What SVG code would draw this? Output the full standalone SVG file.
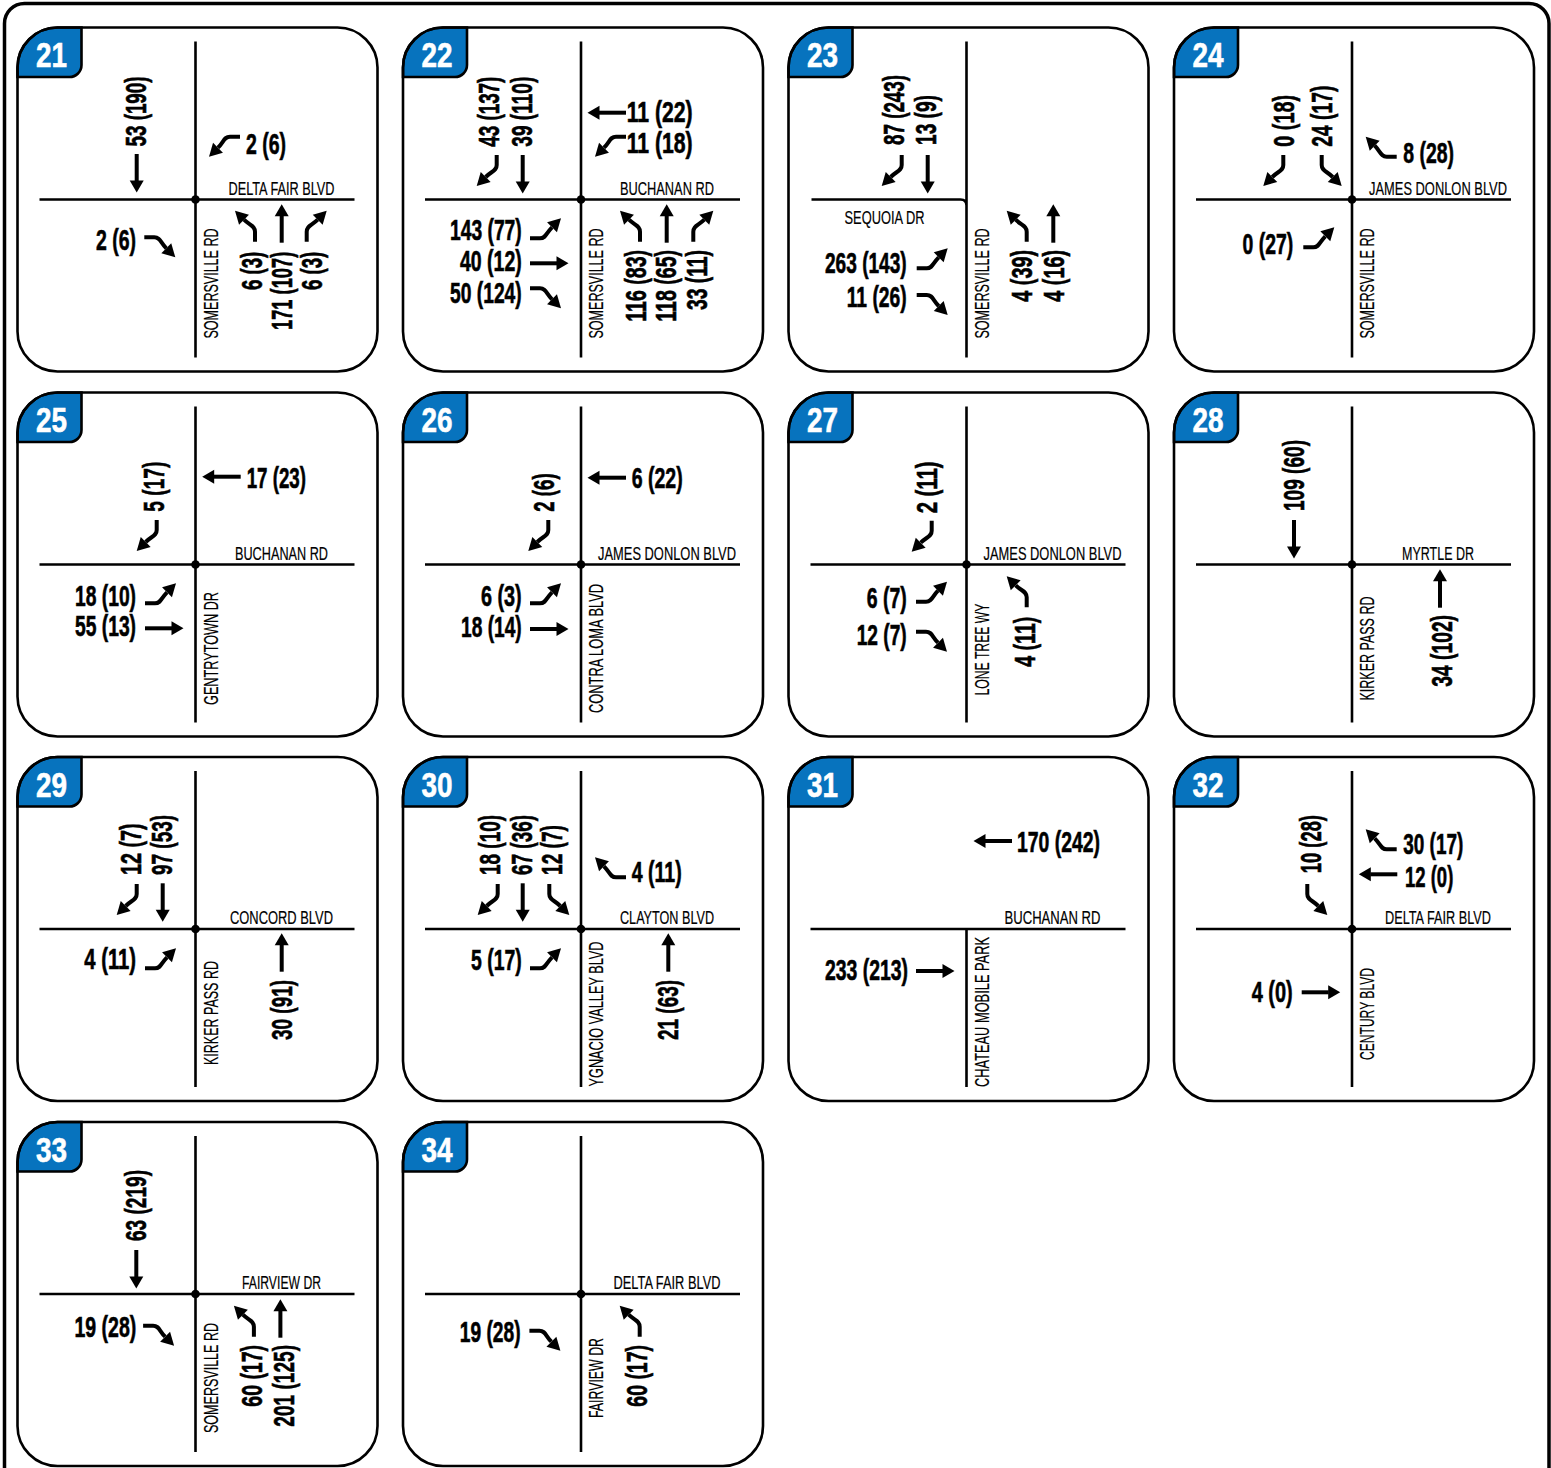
<svg xmlns="http://www.w3.org/2000/svg" width="1551" height="1468" viewBox="0 0 1551 1468">
<style>
.n{font-family:"Liberation Sans",Arial,sans-serif;font-weight:bold;font-size:29px;fill:#000;stroke:#000;stroke-width:0.6}
.e{text-anchor:end}
.s{font-family:"Liberation Sans",Arial,sans-serif;font-size:18.5px;text-anchor:middle;fill:#000;stroke:#000;stroke-width:0.2}
.sv{font-family:"Liberation Sans",Arial,sans-serif;font-size:20.5px;text-anchor:middle;fill:#000;stroke:#000;stroke-width:0.2}
.b{font-family:"Liberation Sans",Arial,sans-serif;font-weight:bold;font-size:35px;text-anchor:middle;fill:#fff;stroke:#fff;stroke-width:0.6}
.pf{fill:none;stroke:#000;stroke-width:2.6}
.bd{fill:#0773BE;stroke:#000;stroke-width:2.6}
.rd{fill:none;stroke:#000;stroke-width:2.6}
.sh{fill:none;stroke:#000;stroke-width:4}
</style>
<defs>
<g id="fr"><path class="bd" d="M0,49.5V40A40,40 0 0 1 40,0H64V37.5A12,12 0 0 1 52,49.5Z"/><rect class="pf" x="0" y="0" width="360" height="344" rx="40"/></g>
<g id="rx"><path class="rd" d="M178,14V330M22,172H337"/><circle cx="178" cy="172" r="4.3"/></g>
<g id="s"><path class="sh" d="M0,0V-27"/><path d="M-7,-26.5L7,-26.5L0,-38.5Z"/></g>
<g id="t"><path class="sh" d="M0,0V-10C0,-16 5,-16 11,-22"/><path d="M6.05,-26.95L15.95,-17.05L20,-31Z"/></g>
</defs>
<rect x="4.5" y="3.5" width="1544.5" height="1530" rx="20" fill="none" stroke="#000" stroke-width="3.5"/>

<g id="n21" transform="translate(17.5,27.5)">
<use href="#fr"/><text class="b" x="34" y="39.5" textLength="31" lengthAdjust="spacingAndGlyphs">21</text>
<use href="#rx"/>
<text class="s" x="264" y="167" textLength="106" lengthAdjust="spacingAndGlyphs">DELTA FAIR BLVD</text>
<text class="sv" transform="translate(200,256) rotate(-90)" textLength="110" lengthAdjust="spacingAndGlyphs">SOMERSVILLE RD</text>
<text class="n" transform="translate(128,119) rotate(-90)" textLength="70" lengthAdjust="spacingAndGlyphs">53 (190)</text>
<text class="n" x="228.5" y="126.8" textLength="40" lengthAdjust="spacingAndGlyphs">2 (6)</text>
<text class="n e" x="118.5" y="222.5" textLength="40" lengthAdjust="spacingAndGlyphs">2 (6)</text>
<text class="n e" transform="translate(244,224.2) rotate(-90)" textLength="38.3" lengthAdjust="spacingAndGlyphs">6 (3)</text>
<text class="n e" transform="translate(274.5,224.2) rotate(-90)" textLength="78.3" lengthAdjust="spacingAndGlyphs">171 (107)</text>
<text class="n e" transform="translate(304.5,224.2) rotate(-90)" textLength="38.3" lengthAdjust="spacingAndGlyphs">6 (3)</text>
</g>

<g id="n22" transform="translate(403,27.5)">
<use href="#fr"/><text class="b" x="34" y="39.5" textLength="31" lengthAdjust="spacingAndGlyphs">22</text>
<use href="#rx"/>
<text class="s" x="264" y="167" textLength="94" lengthAdjust="spacingAndGlyphs">BUCHANAN RD</text>
<text class="sv" transform="translate(200,256) rotate(-90)" textLength="110" lengthAdjust="spacingAndGlyphs">SOMERSVILLE RD</text>
<text class="n" transform="translate(96.3,119.2) rotate(-90)" textLength="70" lengthAdjust="spacingAndGlyphs">43 (137)</text>
<text class="n" transform="translate(129.3,119.2) rotate(-90)" textLength="70" lengthAdjust="spacingAndGlyphs">39 (110)</text>
<text class="n" x="223.7" y="94.2" textLength="66" lengthAdjust="spacingAndGlyphs">11 (22)</text>
<text class="n" x="223.7" y="125.8" textLength="66" lengthAdjust="spacingAndGlyphs">11 (18)</text>
<text class="n e" x="118.7" y="212.5" textLength="71.7" lengthAdjust="spacingAndGlyphs">143 (77)</text>
<text class="n e" x="118.7" y="243.5" textLength="61.7" lengthAdjust="spacingAndGlyphs">40 (12)</text>
<text class="n e" x="118.7" y="275.2" textLength="71.7" lengthAdjust="spacingAndGlyphs">50 (124)</text>
<text class="n e" transform="translate(243,222.5) rotate(-90)" textLength="71.7" lengthAdjust="spacingAndGlyphs">116 (83)</text>
<text class="n e" transform="translate(273,222.5) rotate(-90)" textLength="71.7" lengthAdjust="spacingAndGlyphs">118 (65)</text>
<text class="n e" transform="translate(303.7,222.5) rotate(-90)" textLength="60" lengthAdjust="spacingAndGlyphs">33 (11)</text>
</g>

<g id="n23" transform="translate(788.5,27.5)">
<use href="#fr"/><text class="b" x="34" y="39.5" textLength="31" lengthAdjust="spacingAndGlyphs">23</text>
<path class="rd" d="M178,14V330M23,172H172Q178,172 178,178"/>
<text class="s" x="96" y="196" textLength="80" lengthAdjust="spacingAndGlyphs">SEQUOIA DR</text>
<text class="sv" transform="translate(200,256) rotate(-90)" textLength="110" lengthAdjust="spacingAndGlyphs">SOMERSVILLE RD</text>
<text class="n" transform="translate(115.5,117.5) rotate(-90)" textLength="70" lengthAdjust="spacingAndGlyphs">87 (243)</text>
<text class="n" transform="translate(147.2,117.5) rotate(-90)" textLength="50" lengthAdjust="spacingAndGlyphs">13 (9)</text>
<text class="n e" x="118.2" y="245.8" textLength="81.7" lengthAdjust="spacingAndGlyphs">263 (143)</text>
<text class="n e" x="118.2" y="279.2" textLength="60" lengthAdjust="spacingAndGlyphs">11 (26)</text>
<text class="n e" transform="translate(243.8,222.5) rotate(-90)" textLength="51.7" lengthAdjust="spacingAndGlyphs">4 (39)</text>
<text class="n e" transform="translate(275.5,222.5) rotate(-90)" textLength="51.7" lengthAdjust="spacingAndGlyphs">4 (16)</text>
</g>

<g id="n24" transform="translate(1174,27.5)">
<use href="#fr"/><text class="b" x="34" y="39.5" textLength="31" lengthAdjust="spacingAndGlyphs">24</text>
<use href="#rx"/>
<text class="s" x="264" y="167" textLength="138" lengthAdjust="spacingAndGlyphs">JAMES DONLON BLVD</text>
<text class="sv" transform="translate(200,256) rotate(-90)" textLength="110" lengthAdjust="spacingAndGlyphs">SOMERSVILLE RD</text>
<text class="n" transform="translate(120,119.2) rotate(-90)" textLength="51.7" lengthAdjust="spacingAndGlyphs">0 (18)</text>
<text class="n" transform="translate(158.3,119.2) rotate(-90)" textLength="61" lengthAdjust="spacingAndGlyphs">24 (17)</text>
<text class="n" x="229.3" y="135.8" textLength="50.7" lengthAdjust="spacingAndGlyphs">8 (28)</text>
<text class="n e" x="119.3" y="226.5" textLength="50.7" lengthAdjust="spacingAndGlyphs">0 (27)</text>
</g>

<g id="n25" transform="translate(17.5,392.5)">
<use href="#fr"/><text class="b" x="34" y="39.5" textLength="31" lengthAdjust="spacingAndGlyphs">25</text>
<use href="#rx"/>
<text class="s" x="264" y="167" textLength="93" lengthAdjust="spacingAndGlyphs">BUCHANAN RD</text>
<text class="sv" transform="translate(200,256) rotate(-90)" textLength="113" lengthAdjust="spacingAndGlyphs">GENTRYTOWN DR</text>
<text class="n" transform="translate(146.5,119.2) rotate(-90)" textLength="50" lengthAdjust="spacingAndGlyphs">5 (17)</text>
<text class="n" x="229.2" y="95.8" textLength="59.3" lengthAdjust="spacingAndGlyphs">17 (23)</text>
<text class="n e" x="118.5" y="213.2" textLength="61" lengthAdjust="spacingAndGlyphs">18 (10)</text>
<text class="n e" x="118.5" y="243.2" textLength="61" lengthAdjust="spacingAndGlyphs">55 (13)</text>
</g>

<g id="n26" transform="translate(403,392.5)">
<use href="#fr"/><text class="b" x="34" y="39.5" textLength="31" lengthAdjust="spacingAndGlyphs">26</text>
<use href="#rx"/>
<text class="s" x="264" y="167" textLength="138" lengthAdjust="spacingAndGlyphs">JAMES DONLON BLVD</text>
<text class="sv" transform="translate(200,256) rotate(-90)" textLength="129" lengthAdjust="spacingAndGlyphs">CONTRA LOMA BLVD</text>
<text class="n" transform="translate(151,119.2) rotate(-90)" textLength="38.3" lengthAdjust="spacingAndGlyphs">2 (6)</text>
<text class="n" x="228.7" y="95.8" textLength="51" lengthAdjust="spacingAndGlyphs">6 (22)</text>
<text class="n e" x="118.7" y="213.2" textLength="40.7" lengthAdjust="spacingAndGlyphs">6 (3)</text>
<text class="n e" x="118.7" y="244.8" textLength="60.7" lengthAdjust="spacingAndGlyphs">18 (14)</text>
</g>

<g id="n27" transform="translate(788.5,392.5)">
<use href="#fr"/><text class="b" x="34" y="39.5" textLength="31" lengthAdjust="spacingAndGlyphs">27</text>
<use href="#rx"/>
<text class="s" x="264" y="167" textLength="138" lengthAdjust="spacingAndGlyphs">JAMES DONLON BLVD</text>
<text class="sv" transform="translate(200,257) rotate(-90)" textLength="92" lengthAdjust="spacingAndGlyphs">LONE TREE WY</text>
<text class="n" transform="translate(148.2,120.8) rotate(-90)" textLength="51.7" lengthAdjust="spacingAndGlyphs">2 (11)</text>
<text class="n e" x="118.2" y="215.8" textLength="40" lengthAdjust="spacingAndGlyphs">6 (7)</text>
<text class="n e" x="118.2" y="252.5" textLength="50" lengthAdjust="spacingAndGlyphs">12 (7)</text>
<text class="n e" transform="translate(246.5,224.2) rotate(-90)" textLength="50" lengthAdjust="spacingAndGlyphs">4 (11)</text>
</g>

<g id="n28" transform="translate(1174,392.5)">
<use href="#fr"/><text class="b" x="34" y="39.5" textLength="31" lengthAdjust="spacingAndGlyphs">28</text>
<use href="#rx"/>
<text class="s" x="264" y="167" textLength="72" lengthAdjust="spacingAndGlyphs">MYRTLE DR</text>
<text class="sv" transform="translate(200,256) rotate(-90)" textLength="104" lengthAdjust="spacingAndGlyphs">KIRKER PASS RD</text>
<text class="n" transform="translate(130,118.5) rotate(-90)" textLength="71" lengthAdjust="spacingAndGlyphs">109 (60)</text>
<text class="n e" transform="translate(277.7,222.5) rotate(-90)" textLength="71.7" lengthAdjust="spacingAndGlyphs">34 (102)</text>
</g>

<g id="n29" transform="translate(17.5,757)">
<use href="#fr"/><text class="b" x="34" y="39.5" textLength="31" lengthAdjust="spacingAndGlyphs">29</text>
<use href="#rx"/>
<text class="s" x="264" y="167" textLength="103" lengthAdjust="spacingAndGlyphs">CONCORD BLVD</text>
<text class="sv" transform="translate(200,256) rotate(-90)" textLength="104" lengthAdjust="spacingAndGlyphs">KIRKER PASS RD</text>
<text class="n" transform="translate(123.2,118) rotate(-90)" textLength="51.7" lengthAdjust="spacingAndGlyphs">12 (7)</text>
<text class="n" transform="translate(154.2,118) rotate(-90)" textLength="60" lengthAdjust="spacingAndGlyphs">97 (53)</text>
<text class="n e" x="118.5" y="212.3" textLength="51.7" lengthAdjust="spacingAndGlyphs">4 (11)</text>
<text class="n e" transform="translate(274.2,223) rotate(-90)" textLength="60" lengthAdjust="spacingAndGlyphs">30 (91)</text>
</g>

<g id="n30" transform="translate(403,757)">
<use href="#fr"/><text class="b" x="34" y="39.5" textLength="31" lengthAdjust="spacingAndGlyphs">30</text>
<use href="#rx"/>
<text class="s" x="264" y="167" textLength="94" lengthAdjust="spacingAndGlyphs">CLAYTON BLVD</text>
<text class="sv" transform="translate(200,257) rotate(-90)" textLength="145" lengthAdjust="spacingAndGlyphs">YGNACIO VALLEY BLVD</text>
<text class="n" transform="translate(97,118) rotate(-90)" textLength="60" lengthAdjust="spacingAndGlyphs">18 (10)</text>
<text class="n" transform="translate(128.7,118) rotate(-90)" textLength="60" lengthAdjust="spacingAndGlyphs">67 (36)</text>
<text class="n" transform="translate(158.7,118) rotate(-90)" textLength="50" lengthAdjust="spacingAndGlyphs">12 (7)</text>
<text class="n" x="228.7" y="124.7" textLength="50" lengthAdjust="spacingAndGlyphs">4 (11)</text>
<text class="n e" x="118.7" y="213" textLength="50.7" lengthAdjust="spacingAndGlyphs">5 (17)</text>
<text class="n e" transform="translate(275.3,223) rotate(-90)" textLength="60" lengthAdjust="spacingAndGlyphs">21 (63)</text>
</g>

<g id="n31" transform="translate(788.5,757)">
<use href="#fr"/><text class="b" x="34" y="39.5" textLength="31" lengthAdjust="spacingAndGlyphs">31</text>
<path class="rd" d="M22,172H337M178,172V330"/>
<text class="s" x="264" y="167" textLength="96" lengthAdjust="spacingAndGlyphs">BUCHANAN RD</text>
<text class="sv" transform="translate(200,255) rotate(-90)" textLength="150" lengthAdjust="spacingAndGlyphs">CHATEAU MOBILE PARK</text>
<text class="n" x="228.5" y="95" textLength="83" lengthAdjust="spacingAndGlyphs">170 (242)</text>
<text class="n e" x="119.5" y="223" textLength="83" lengthAdjust="spacingAndGlyphs">233 (213)</text>
</g>

<g id="n32" transform="translate(1174,757)">
<use href="#fr"/><text class="b" x="34" y="39.5" textLength="31" lengthAdjust="spacingAndGlyphs">32</text>
<use href="#rx"/>
<text class="s" x="264" y="167" textLength="106" lengthAdjust="spacingAndGlyphs">DELTA FAIR BLVD</text>
<text class="sv" transform="translate(200,257) rotate(-90)" textLength="92" lengthAdjust="spacingAndGlyphs">CENTURY BLVD</text>
<text class="n" transform="translate(146.7,116.3) rotate(-90)" textLength="58.3" lengthAdjust="spacingAndGlyphs">10 (28)</text>
<text class="n" x="229.3" y="97" textLength="60" lengthAdjust="spacingAndGlyphs">30 (17)</text>
<text class="n" x="231" y="129.7" textLength="48.3" lengthAdjust="spacingAndGlyphs">12 (0)</text>
<text class="n e" x="118.7" y="244.7" textLength="41" lengthAdjust="spacingAndGlyphs">4 (0)</text>
</g>

<g id="n33" transform="translate(17.5,1122)">
<use href="#fr"/><text class="b" x="34" y="39.5" textLength="31" lengthAdjust="spacingAndGlyphs">33</text>
<use href="#rx"/>
<text class="s" x="264" y="167" textLength="79" lengthAdjust="spacingAndGlyphs">FAIRVIEW DR</text>
<text class="sv" transform="translate(200,256) rotate(-90)" textLength="110" lengthAdjust="spacingAndGlyphs">SOMERSVILLE RD</text>
<text class="n" transform="translate(128.1,119) rotate(-90)" textLength="71" lengthAdjust="spacingAndGlyphs">63 (219)</text>
<text class="n e" x="118.8" y="214.7" textLength="61.8" lengthAdjust="spacingAndGlyphs">19 (28)</text>
<text class="n e" transform="translate(244.8,223) rotate(-90)" textLength="61.7" lengthAdjust="spacingAndGlyphs">60 (17)</text>
<text class="n e" transform="translate(276.6,223) rotate(-90)" textLength="81.7" lengthAdjust="spacingAndGlyphs">201 (125)</text>
</g>

<g id="n34" transform="translate(403,1122)">
<use href="#fr"/><text class="b" x="34" y="39.5" textLength="31" lengthAdjust="spacingAndGlyphs">34</text>
<use href="#rx"/>
<text class="s" x="264" y="167" textLength="107" lengthAdjust="spacingAndGlyphs">DELTA FAIR BLVD</text>
<text class="sv" transform="translate(200,256) rotate(-90)" textLength="80" lengthAdjust="spacingAndGlyphs">FAIRVIEW DR</text>
<text class="n e" x="117.6" y="219.7" textLength="60.8" lengthAdjust="spacingAndGlyphs">19 (28)</text>
<text class="n e" transform="translate(244,223) rotate(-90)" textLength="61.7" lengthAdjust="spacingAndGlyphs">60 (17)</text>
</g>

<g id="connectors">
<g transform="translate(17.5,27.5)">
<use href="#s" transform="translate(119.2,126.5) rotate(180)"/>
<use href="#t" transform="translate(222.5,109.2) rotate(-90) scale(-1,1)"/>
<use href="#t" transform="translate(126.8,209.8) rotate(90)"/>
<use href="#t" transform="translate(237.5,214.2) scale(-1,1)"/>
<use href="#s" transform="translate(264.2,215.2)"/>
<use href="#t" transform="translate(289.2,214.2)"/>
</g>
<g transform="translate(403,27.5)">
<use href="#t" transform="translate(93.7,127.5) rotate(180)"/>
<use href="#s" transform="translate(119.7,127.5) rotate(180)"/>
<use href="#s" transform="translate(223,85.2) rotate(-90)"/>
<use href="#t" transform="translate(223,109.2) rotate(-90) scale(-1,1)"/>
<use href="#t" transform="translate(127,210.8) rotate(90) scale(-1,1)"/>
<use href="#s" transform="translate(127,235.8) rotate(90)"/>
<use href="#t" transform="translate(127,260.8) rotate(90)"/>
<use href="#t" transform="translate(237,214.2) scale(-1,1)"/>
<use href="#s" transform="translate(263.7,215.2)"/>
<use href="#t" transform="translate(290.3,214.2)"/>
</g>
<g transform="translate(788.5,27.5)">
<use href="#t" transform="translate(113.2,127.5) rotate(180)"/>
<use href="#s" transform="translate(139.2,127.5) rotate(180)"/>
<use href="#t" transform="translate(128.2,240.8) rotate(90) scale(-1,1)"/>
<use href="#t" transform="translate(128.2,267.5) rotate(90)"/>
<use href="#t" transform="translate(238.2,214.2) scale(-1,1)"/>
<use href="#s" transform="translate(264.8,215.2)"/>
</g>
<g transform="translate(1174,27.5)">
<use href="#t" transform="translate(109.3,127.5) rotate(180)"/>
<use href="#t" transform="translate(147.7,127.5) scale(1,-1)"/>
<use href="#t" transform="translate(222.7,129.2) rotate(-90)"/>
<use href="#t" transform="translate(129.3,219.8) rotate(90) scale(-1,1)"/>
</g>
<g transform="translate(17.5,392.5)">
<use href="#t" transform="translate(139.2,127.5) rotate(180)"/>
<use href="#s" transform="translate(223.2,84.2) rotate(-90)"/>
<use href="#t" transform="translate(127.5,210.8) rotate(90) scale(-1,1)"/>
<use href="#s" transform="translate(127.5,235.8) rotate(90)"/>
</g>
<g transform="translate(403,392.5)">
<use href="#t" transform="translate(145.3,127.5) rotate(180)"/>
<use href="#s" transform="translate(223,85.2) rotate(-90)"/>
<use href="#t" transform="translate(127,210.8) rotate(90) scale(-1,1)"/>
<use href="#s" transform="translate(127,236.5) rotate(90)"/>
</g>
<g transform="translate(788.5,392.5)">
<use href="#t" transform="translate(143.2,128.2) rotate(180)"/>
<use href="#t" transform="translate(127.5,209.2) rotate(90) scale(-1,1)"/>
<use href="#t" transform="translate(127.5,239.2) rotate(90)"/>
<use href="#t" transform="translate(238.2,214.8) scale(-1,1)"/>
</g>
<g transform="translate(1174,392.5)">
<use href="#s" transform="translate(120,127.5) rotate(180)"/>
<use href="#s" transform="translate(266,215.2)"/>
</g>
<g transform="translate(17.5,757)">
<use href="#t" transform="translate(119.2,127) rotate(180)"/>
<use href="#s" transform="translate(145.2,126.3) rotate(180)"/>
<use href="#t" transform="translate(127.5,211.3) rotate(90) scale(-1,1)"/>
<use href="#s" transform="translate(264.2,214.7)"/>
</g>
<g transform="translate(403,757)">
<use href="#t" transform="translate(94.7,127) rotate(180)"/>
<use href="#s" transform="translate(119.7,126.3) rotate(180)"/>
<use href="#t" transform="translate(146.3,127) scale(1,-1)"/>
<use href="#t" transform="translate(223,120.3) rotate(-90)"/>
<use href="#t" transform="translate(127,211.3) rotate(90) scale(-1,1)"/>
<use href="#s" transform="translate(265.3,214.7)"/>
</g>
<g transform="translate(788.5,757)">
<use href="#s" transform="translate(223.5,84) rotate(-90)"/>
<use href="#s" transform="translate(127.5,214) rotate(90)"/>
</g>
<g transform="translate(1174,757)">
<use href="#t" transform="translate(133.3,127) scale(1,-1)"/>
<use href="#t" transform="translate(222.7,92.3) rotate(-90)"/>
<use href="#s" transform="translate(223.3,117.3) rotate(-90)"/>
<use href="#s" transform="translate(127.7,235.3) rotate(90)"/>
</g>
<g transform="translate(17.5,1122)">
<use href="#s" transform="translate(118.8,128) rotate(180)"/>
<use href="#t" transform="translate(125.6,203.7) rotate(90)"/>
<use href="#t" transform="translate(236.4,214.7) scale(-1,1)"/>
<use href="#s" transform="translate(262.9,215.7)"/>
</g>
<g transform="translate(403,1122)">
<use href="#t" transform="translate(126.4,208.7) rotate(90)"/>
<use href="#t" transform="translate(236.7,214.7) scale(-1,1)"/>
</g>
</g>
</svg>
